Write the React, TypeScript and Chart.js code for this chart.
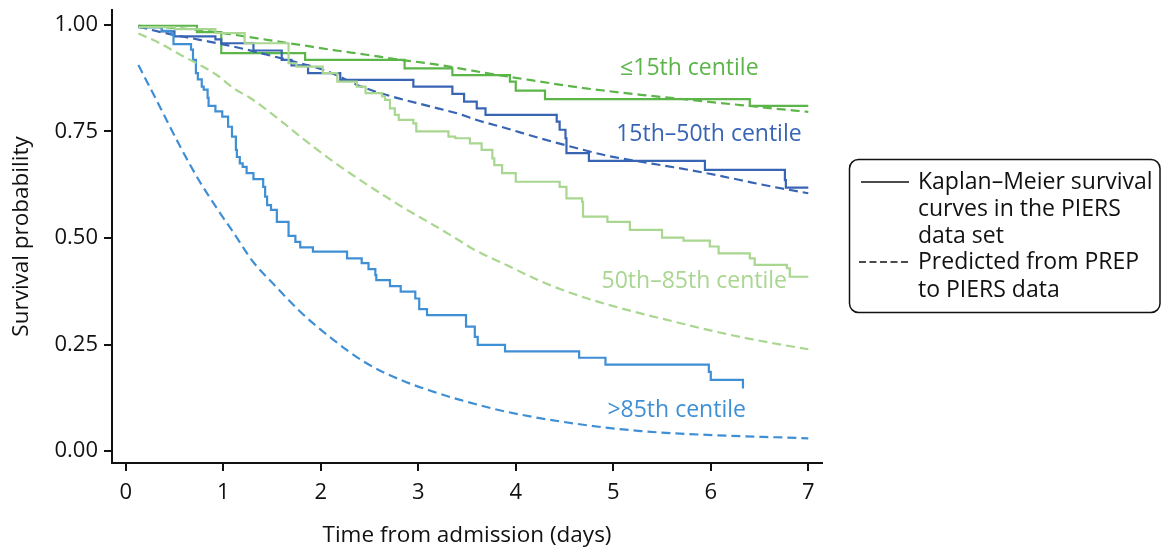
import React, { useEffect, useRef } from 'react';
import { Chart, registerables } from 'chart.js';
Chart.register(...registerables);

// Axis ticks
const xTickValues = [0, 1, 2, 3, 4, 5, 6, 7];
const yTickValues = [0, 0.25, 0.5, 0.75, 1.0];

// ≤15th centile – Kaplan–Meier (PIERS)
const kmLowT = [0.13, 0.73, 0.98, 1.84, 2.86, 3.35, 3.94, 4.0, 4.3, 6.4, 7.0];
const kmLowS = [0.998, 0.983, 0.934, 0.918, 0.898, 0.882, 0.867, 0.846, 0.826, 0.81, 0.81];
// ≤15th centile – predicted (PREP)
const prLowT = [0.13, 0.5, 0.76, 1.11, 1.45, 1.79, 2.13, 2.47, 2.82, 3.16, 3.57, 3.91, 4.25, 4.59, 4.94, 5.28, 5.62, 5.96, 6.3, 6.64, 7.0];
const prLowS = [0.998, 0.993, 0.988, 0.977, 0.965, 0.953, 0.941, 0.93, 0.918, 0.908, 0.892, 0.879, 0.867, 0.855, 0.845, 0.836, 0.828, 0.82, 0.812, 0.804, 0.796];

// 15th–50th centile – Kaplan–Meier
const kmMidT = [0.13, 0.37, 0.5, 0.92, 0.98, 1.31, 1.6, 1.7, 1.87, 2.2, 2.95, 3.35, 3.47, 3.6, 3.69, 4.42, 4.45, 4.51, 4.52, 4.75, 5.94, 6.76, 6.77, 7.0];
const kmMidS = [0.995, 0.985, 0.973, 0.966, 0.957, 0.94, 0.918, 0.905, 0.887, 0.871, 0.855, 0.838, 0.82, 0.804, 0.789, 0.773, 0.754, 0.734, 0.699, 0.681, 0.66, 0.636, 0.618, 0.618];
// 15th–50th centile – predicted
const prMidT = [0.13, 0.42, 0.76, 1.11, 1.45, 1.79, 2.08, 2.42, 2.76, 3.1, 3.45, 3.57, 3.91, 4.25, 4.59, 4.94, 5.28, 5.62, 5.96, 6.3, 6.64, 7.0];
const prMidS = [0.996, 0.98, 0.965, 0.949, 0.93, 0.91, 0.89, 0.855, 0.83, 0.81, 0.789, 0.779, 0.757, 0.734, 0.713, 0.693, 0.679, 0.666, 0.652, 0.636, 0.62, 0.605];

// 50th–85th centile – Kaplan–Meier
const kmHighT = [0.13, 0.5, 0.92, 1.22, 1.67, 1.75, 2.02, 2.17, 2.37, 2.46, 2.63, 2.66, 2.71, 2.76, 2.8, 2.95, 2.98, 3.31, 3.38, 3.53, 3.65, 3.76, 3.78, 3.86, 4.0, 4.45, 4.52, 4.68, 4.69, 4.94, 5.17, 5.5, 5.72, 5.99, 6.08, 6.4, 6.45, 6.78, 6.81, 7.0];
const kmHighS = [0.995, 0.99, 0.981, 0.957, 0.91, 0.902, 0.887, 0.867, 0.855, 0.84, 0.832, 0.824, 0.804, 0.789, 0.777, 0.769, 0.75, 0.738, 0.734, 0.722, 0.707, 0.687, 0.671, 0.652, 0.632, 0.62, 0.593, 0.585, 0.55, 0.538, 0.519, 0.501, 0.494, 0.48, 0.464, 0.452, 0.437, 0.429, 0.409, 0.409];
// 50th–85th centile – predicted
const prHighT = [0.13, 0.35, 0.56, 0.76, 0.93, 1.11, 1.28, 1.45, 1.65, 1.79, 1.96, 2.13, 2.3, 2.47, 2.64, 2.82, 3.16, 3.4, 3.57, 3.91, 4.25, 4.59, 4.94, 5.28, 5.62, 5.96, 6.3, 6.64, 7.0];
const prHighS = [0.98, 0.957, 0.93, 0.906, 0.883, 0.851, 0.828, 0.8, 0.764, 0.738, 0.708, 0.679, 0.652, 0.626, 0.601, 0.575, 0.53, 0.497, 0.473, 0.436, 0.399, 0.369, 0.344, 0.323, 0.304, 0.285, 0.268, 0.253, 0.239];

// >85th centile – Kaplan–Meier
const kmTopT = [0.13, 0.37, 0.47, 0.49, 0.67, 0.69, 0.72, 0.74, 0.78, 0.8, 0.84, 0.85, 0.92, 0.99, 1.05, 1.09, 1.13, 1.14, 1.17, 1.2, 1.24, 1.31, 1.41, 1.43, 1.45, 1.49, 1.55, 1.67, 1.74, 1.79, 1.92, 2.27, 2.42, 2.49, 2.56, 2.57, 2.71, 2.82, 2.97, 3.01, 3.09, 3.49, 3.58, 3.61, 3.89, 4.65, 4.92, 5.98, 6.0, 6.33];
const kmTopS = [0.995, 0.986, 0.977, 0.955, 0.942, 0.918, 0.887, 0.872, 0.855, 0.848, 0.829, 0.81, 0.797, 0.785, 0.761, 0.738, 0.707, 0.69, 0.675, 0.667, 0.652, 0.638, 0.62, 0.597, 0.577, 0.566, 0.538, 0.505, 0.491, 0.478, 0.468, 0.452, 0.441, 0.427, 0.413, 0.401, 0.387, 0.374, 0.358, 0.333, 0.319, 0.292, 0.268, 0.249, 0.234, 0.219, 0.203, 0.186, 0.167, 0.147];
// >85th centile – predicted
const prTopT = [0.13, 0.35, 0.56, 0.76, 0.94, 1.11, 1.31, 1.52, 1.79, 2.13, 2.47, 2.82, 3.16, 3.43, 3.91, 4.59, 5.28, 5.96, 7.0];
const prTopS = [0.906, 0.808, 0.714, 0.632, 0.568, 0.511, 0.443, 0.391, 0.327, 0.261, 0.206, 0.167, 0.139, 0.12, 0.092, 0.065, 0.047, 0.038, 0.03];

const C_LOW = '#5bb548';
const C_MID = '#3864b4';
const C_HIGH = '#a9d690';
const C_TOP = '#3f8fd5';
const FONT = '"Open Sans", "Noto Sans", sans-serif';

const zip = (t: number[], s: number[]) => t.map((v, i) => ({ x: v, y: s[i] }));

const curveLabels = [
  { text: '≤15th centile', color: C_LOW, x: 5.07, y: 0.899 },
  { text: '15th–50th centile', color: C_MID, x: 5.03, y: 0.742 },
  { text: '50th–85th centile', color: C_HIGH, x: 4.88, y: 0.399 },
  { text: '>85th centile', color: C_TOP, x: 4.94, y: 0.096 },
];

const labelPlugin = {
  id: 'curveLabels',
  afterDatasetsDraw(chart: any) {
    const { ctx, scales } = chart;
    ctx.save();
    ctx.font = `23px ${FONT}`;
    ctx.textBaseline = 'middle';
    ctx.textAlign = 'left';
    curveLabels.forEach((l) => {
      ctx.fillStyle = l.color;
      ctx.fillText(l.text, scales.x.getPixelForValue(l.x), scales.y.getPixelForValue(l.y));
    });
    ctx.restore();
  },
};

const legendPlugin = {
  id: 'boxLegend',
  afterDraw(chart: any) {
    const { ctx } = chart;
    ctx.save();
    const x = 849.5, y = 159.5, w = 310.5, h = 153, r = 9;
    ctx.strokeStyle = '#111';
    ctx.lineWidth = 1.5;
    ctx.beginPath();
    ctx.moveTo(x + r, y);
    ctx.lineTo(x + w - r, y);
    ctx.arcTo(x + w, y, x + w, y + r, r);
    ctx.lineTo(x + w, y + h - r);
    ctx.arcTo(x + w, y + h, x + w - r, y + h, r);
    ctx.lineTo(x + r, y + h);
    ctx.arcTo(x, y + h, x, y + h - r, r);
    ctx.lineTo(x, y + r);
    ctx.arcTo(x, y, x + r, y, r);
    ctx.closePath();
    ctx.stroke();

    ctx.lineWidth = 1.5;
    ctx.beginPath();
    ctx.moveTo(861, 182);
    ctx.lineTo(909, 182);
    ctx.stroke();
    ctx.setLineDash([7, 3.5]);
    ctx.beginPath();
    ctx.moveTo(859, 262);
    ctx.lineTo(910, 262);
    ctx.stroke();
    ctx.setLineDash([]);

    ctx.fillStyle = '#111';
    ctx.font = `23px ${FONT}`;
    ctx.textBaseline = 'middle';
    ctx.textAlign = 'left';
    const lines = ['Kaplan–Meier survival', 'curves in the PIERS', 'data set', 'Predicted from PREP', 'to PIERS data'];
    const ys = [182, 209, 236, 262, 290];
    lines.forEach((t, i) => ctx.fillText(t, 918, ys[i]));
    ctx.restore();
  },
};

export default function App() {
  const ref = useRef<HTMLCanvasElement | null>(null);
  useEffect(() => {
    document.body.style.margin = '0';
    if (!ref.current) return;
    const km = (label: string, t: number[], s: number[], color: string) => ({
      label, data: zip(t, s), borderColor: color, backgroundColor: color,
      borderWidth: 2.2, pointRadius: 0, fill: false, stepped: 'before' as const,
    });
    const pr = (label: string, t: number[], s: number[], color: string) => ({
      label, data: zip(t, s), borderColor: color, backgroundColor: color,
      borderWidth: 2.2, pointRadius: 0, fill: false, borderDash: [9, 5],
      cubicInterpolationMode: 'monotone' as const,
    });
    const chart = new Chart(ref.current, {
      type: 'line',
      data: {
        datasets: [
          pr('>85th predicted', prTopT, prTopS, C_TOP),
          pr('50th–85th predicted', prHighT, prHighS, C_HIGH),
          km('50th–85th KM', kmHighT, kmHighS, C_HIGH),
          km('>85th KM', kmTopT, kmTopS, C_TOP),
          pr('15th–50th predicted', prMidT, prMidS, C_MID),
          km('15th–50th KM', kmMidT, kmMidS, C_MID),
          pr('≤15th predicted', prLowT, prLowS, C_LOW),
          km('≤15th KM', kmLowT, kmLowS, C_LOW),
        ],
      },
      options: {
        animation: false,
        responsive: true,
        maintainAspectRatio: false,
        layout: { padding: { top: 10, right: 341, left: 0, bottom: 0 } },
        plugins: { legend: { display: false }, tooltip: { enabled: false } },
        scales: {
          x: {
            type: 'linear',
            min: -0.1405,
            max: 7.1405,
            afterBuildTicks: (s: any) => { s.ticks = xTickValues.map((v) => ({ value: v })); },
            afterFit: (s: any) => { s.height = 84; s.paddingLeft = 0; s.paddingRight = 0; },
            grid: { display: true, drawOnChartArea: false, drawTicks: true, tickLength: 8, color: '#111', lineWidth: 2 },
            border: { display: true, color: '#111', width: 2 },
            ticks: { color: '#111', font: { family: FONT, size: 22 }, padding: 9, maxRotation: 0, callback: (v: any) => String(v) },
            title: { display: true, text: 'Time from admission (days)', color: '#111', font: { family: FONT, size: 22.5, lineHeight: 1 }, padding: { top: 0, bottom: 0 } },
          },
          y: {
            type: 'linear',
            min: -0.028,
            max: 1.035,
            afterBuildTicks: (s: any) => { s.ticks = yTickValues.map((v) => ({ value: v })); },
            afterFit: (s: any) => { s.width = 112; s.paddingTop = 0; s.paddingBottom = 0; },
            grid: { display: true, drawOnChartArea: false, drawTicks: true, tickLength: 8, color: '#111', lineWidth: 2 },
            border: { display: true, color: '#111', width: 2 },
            ticks: { color: '#111', font: { family: FONT, size: 22 }, padding: 6, callback: (v: any) => Number(v).toFixed(2) },
            title: { display: true, text: 'Survival probability', color: '#111', font: { family: FONT, size: 22.5 }, padding: { top: 8, bottom: 0 } },
          },
        },
      },
      plugins: [labelPlugin, legendPlugin],
    });
    return () => chart.destroy();
  }, []);
  return (
    <div style={{ width: 1163, height: 547, position: 'relative' }}>
      <canvas ref={ref} />
    </div>
  );
}
